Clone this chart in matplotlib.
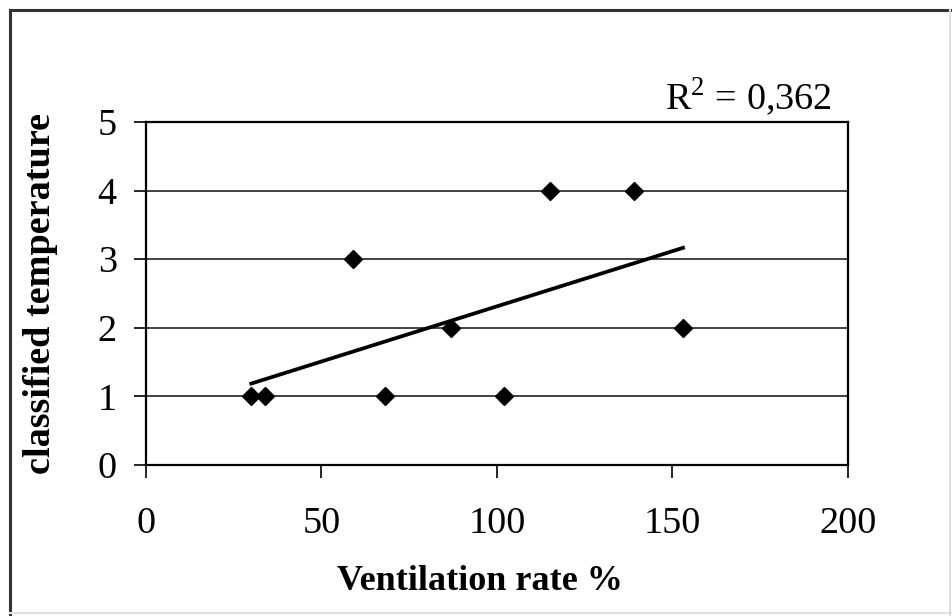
import numpy as np
from matplotlib import pyplot as plt
from matplotlib.lines import Line2D

# data
ventilation = [30, 34, 59, 68, 87, 102, 115, 139, 153]
temperature = [1, 1, 3, 1, 2, 1, 4, 4, 2]
x_ticks = [0, 50, 100, 150, 200]
y_ticks = [0, 1, 2, 3, 4, 5]
r2_label = "R$^2$ = 0,362"

plt.rcParams['font.family'] = ['Liberation Serif', 'DejaVu Serif']
plt.rcParams['mathtext.fontset'] = 'custom'
plt.rcParams['mathtext.rm'] = 'Liberation Serif'

fig = plt.figure(figsize=(9.53, 6.16), dpi=100)
ax = fig.add_axes([0.1532, 0.2451, 0.7366, 0.5569])

# horizontal gridlines
ax.grid(axis='y', color='#222222', linewidth=1.2)
ax.set_axisbelow(True)

ax.plot(ventilation, temperature, linestyle='none', marker='D',
        markersize=9, color='black', zorder=3)

# linear trend line
a, b = np.polyfit(ventilation, temperature, 1)
xs = np.array([min(ventilation), max(ventilation)])
ax.plot(xs, a * xs + b, color='black', linewidth=2.7, zorder=4)

ax.set_xlim(0, 200)
ax.set_ylim(0, 5)
ax.set_xticks(x_ticks)
ax.set_yticks(y_ticks)
ax.tick_params(axis='both', direction='out', length=9, width=1.2, labelsize=27.5)
ax.tick_params(axis='x', pad=21)
ax.tick_params(axis='y', pad=12)
for s in ax.spines.values():
    s.set_linewidth(1.6)

ax.set_xlabel("Ventilation rate %", fontsize=26, fontweight='bold')
ax.xaxis.set_label_coords(0.475, -0.29)
ax.set_ylabel("classified temperature", fontsize=27.5, fontweight='bold')
ax.yaxis.set_label_coords(-0.125, 0.5)

fig.text(0.785, 0.843, r2_label, fontsize=27.5, ha='center', va='center')

# outer frame
fig.add_artist(Line2D([0.0105, 0.0105], [0.0, 0.984], color='#333333', lw=2.2))
fig.add_artist(Line2D([0.0105, 1.0], [0.984, 0.984], color='#333333', lw=2.2))
fig.add_artist(Line2D([0.997, 0.997], [0.0, 0.984], color='#dddddd', lw=1.5))
fig.add_artist(Line2D([0.0105, 1.0], [0.005, 0.005], color='#e0e0e0', lw=1.5))

fig.savefig("out.png", dpi=100)
